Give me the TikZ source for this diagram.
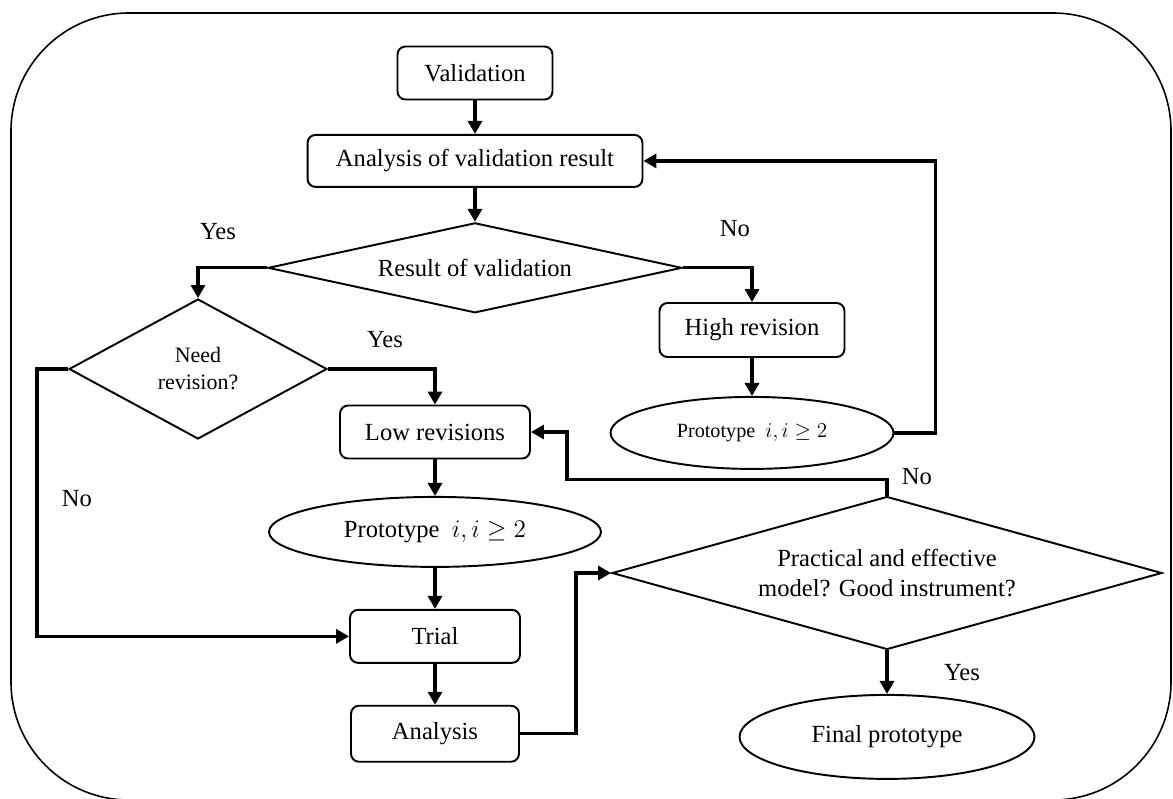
\documentclass[tikz,border=0pt]{standalone}
\usepackage{fontspec}
\setmainfont{Liberation Serif}
\usetikzlibrary{arrows.meta,positioning,shapes.geometric}
\tikzset{
 flowbox/.style={
 rectangle,
 rounded corners=1.6mm,
 draw=black,
 line width=1.1pt,
 align=center,
 inner sep=0pt,
 font=\fontsize{14}{17}\selectfont
 },
 decision/.style={
 diamond,
 draw=black,
 line width=1.1pt,
 align=center,
 inner sep=0pt,
 font=\fontsize{14}{17}\selectfont
 },
 proto/.style={
 ellipse,
 draw=black,
 line width=1.1pt,
 inner sep=0pt,
 font=\fontsize{14}{17}\selectfont
 },
 answer/.style={font=\fontsize{14}{17}\selectfont},
 outerframe/.style={rounded corners=23.6mm, line width=0.9pt},
 flowarrow/.style={-{Triangle[length=2.6mm,width=2.8mm]}, line width=1.8pt, draw=black}
}

\begin{document}
\begin{tikzpicture}[x=0.02cm, y=-0.02cm, node distance=7mm]
 \useasboundingbox (0,0) rectangle (1173,798);
 \draw[outerframe] (11,13) rectangle (1171,800);

 \node[flowbox, minimum width=31mm, minimum height=10.6mm] (valid) at (475,73) {Validation};
 \node[flowbox, below=6.7mm of valid, minimum width=67mm, minimum height=10.4mm] (anares) {Analysis of validation result};
 \node[decision, below=6.8mm of anares, minimum width=82.8mm, minimum height=18mm, aspect=4.6] (result) {Result of validation};
 \node[decision, minimum width=51.6mm, minimum height=28mm, aspect=1.84, font=\fontsize{12.5}{15.4}\selectfont] (needrev) at (198,369) {Need\\revision?};
 \node[flowbox, minimum width=37mm, minimum height=10.8mm] (highrev) at (752,330) {High revision};
 \node[proto, below=7.6mm of highrev, minimum width=56.6mm, minimum height=14.4mm, font=\fontsize{11.5}{14}\selectfont] (protohigh) {Prototype \ $i,i\geq 2$};
 \node[flowbox, minimum width=38mm, minimum height=10.6mm] (lowrev) at (435,432) {Low revisions};
 \node[proto, below=7.3mm of lowrev, minimum width=66.4mm, minimum height=14mm] (protolow) {Prototype \ $i,i\geq 2$};
 \node[flowbox, below=8.2mm of protolow, minimum width=34mm, minimum height=10.6mm] (trial) {Trial};
 \node[flowbox, below=8.2mm of trial, minimum width=33.6mm, minimum height=11.2mm] (analysis) {Analysis};
 \node[decision, minimum width=110mm, minimum height=30.6mm, aspect=3.6] (practical) at (887,573) {Practical and effective\\model? Good instrument?};
 \node[proto, below=8.7mm of practical, minimum width=59mm, minimum height=16.8mm] (final) {Final prototype};

 \node[answer] (yesres) at (218,232) {Yes};
 \node[answer] (nores) at (735,229) {No};
 \node[answer] (yesneed) at (385,340) {Yes};
 \node[answer] (noneed) at (77,499) {No};
 \node[answer] (noprac) at (917,477) {No};
 \node[answer] (yesprac) at (962,673) {Yes};

 \draw[flowarrow] (valid) -- (anares);
 \draw[flowarrow] (anares) -- (result);
 \draw[flowarrow] (result.west) -| (needrev.north);
 \draw[flowarrow] (result.east) -| (highrev.north);
 \draw[flowarrow] (highrev) -- (protohigh);
 \draw[flowarrow] (protohigh.east) -- ++(41,0) |- (anares.east);
 \draw[flowarrow] (needrev.east) -| (lowrev.north);
 \draw[flowarrow] (needrev.west) -- ++(-31,0) |- (trial.west);
 \draw[flowarrow] (lowrev) -- (protolow);
 \draw[flowarrow] (protolow) -- (trial);
 \draw[flowarrow] (trial) -- (analysis);
 \draw[flowarrow] (analysis.east) -- ++(56,0) |- (practical.west);
 \draw[flowarrow] (practical.north) |- ++(-320,-16) |- (lowrev.east);
 \draw[flowarrow] (practical) -- (final);
\end{tikzpicture}
\end{document}
